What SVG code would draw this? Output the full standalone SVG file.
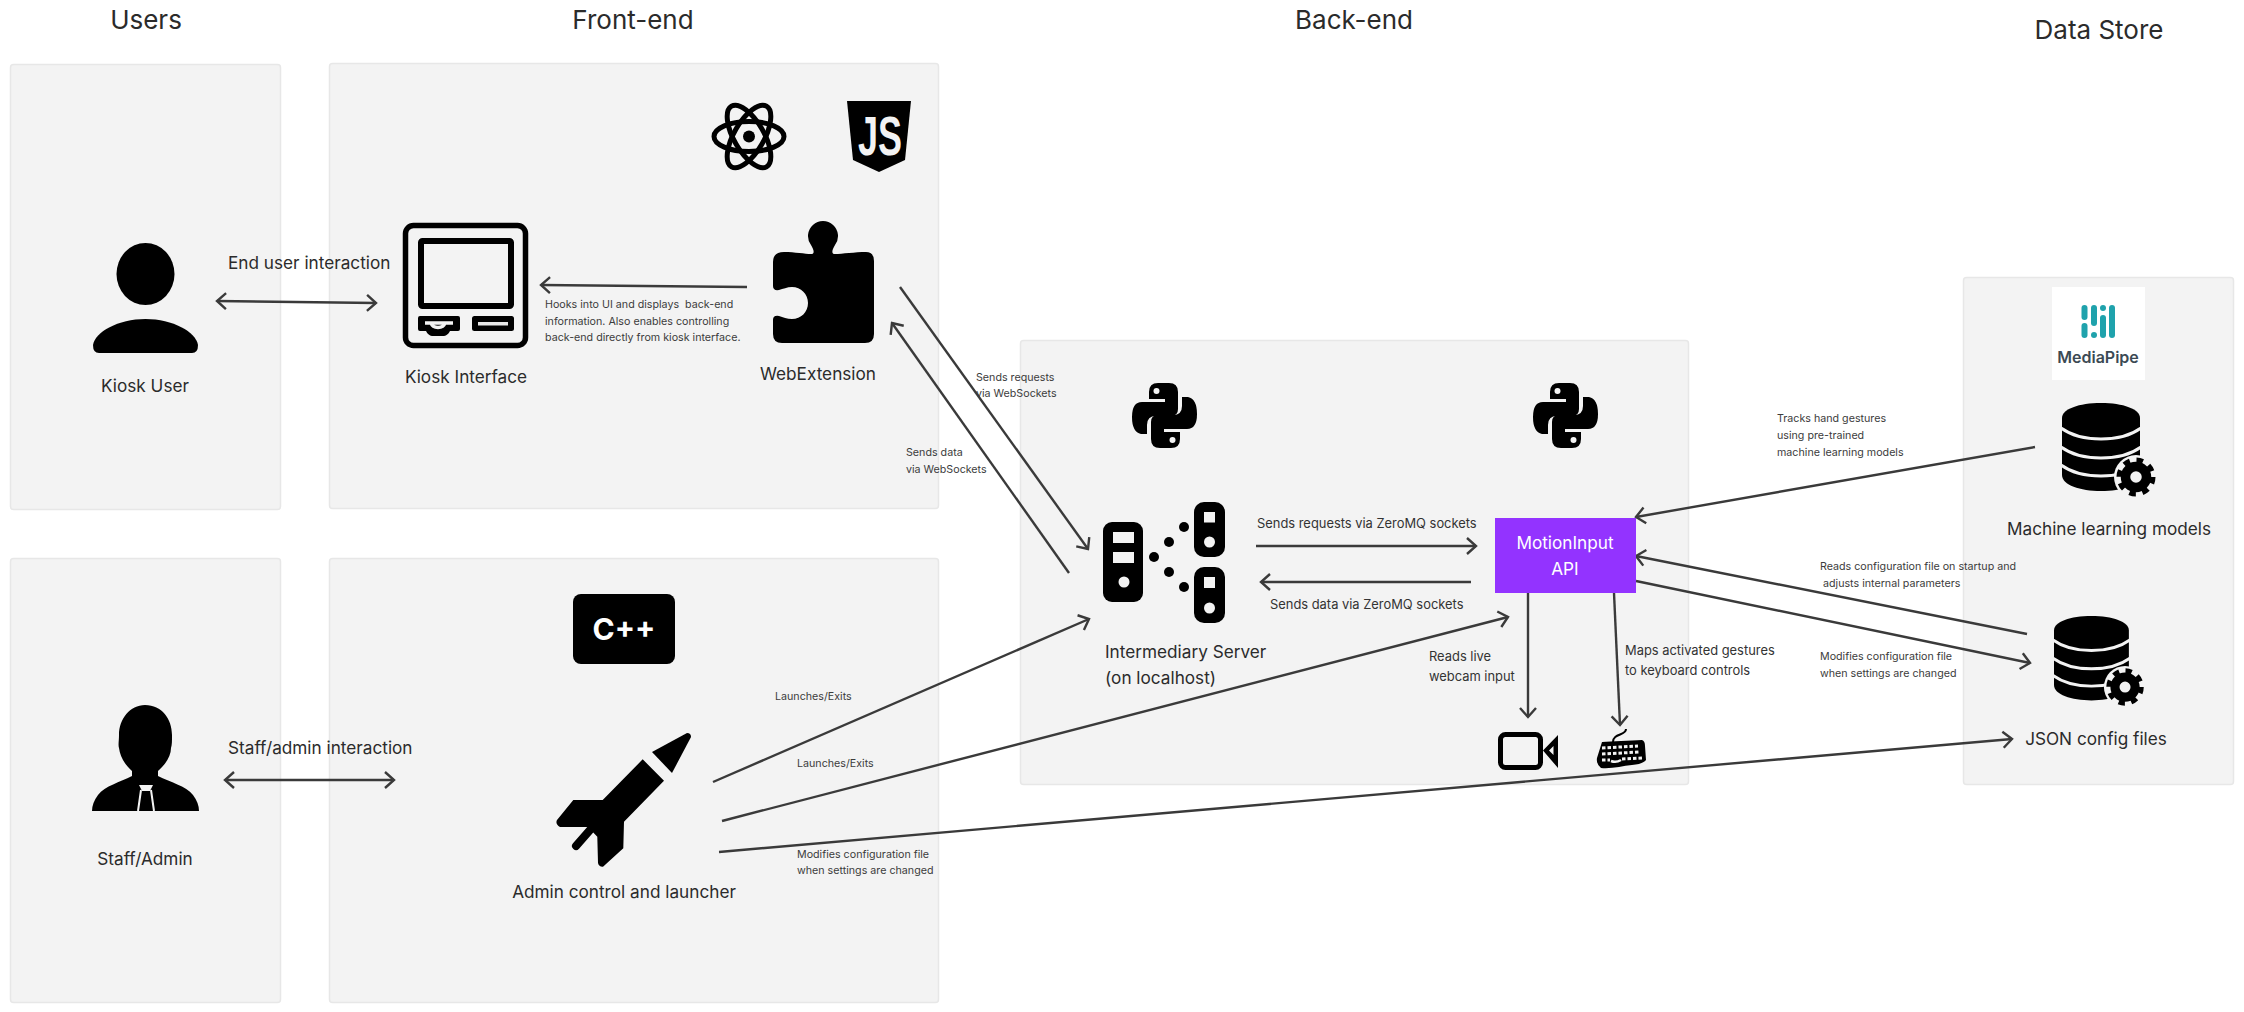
<svg xmlns="http://www.w3.org/2000/svg" width="2244" height="1012" viewBox="0 0 2244 1012">
<style>
text{font-family:Inter,"Noto Sans","Liberation Sans",sans-serif;fill:#2b2b2b;white-space:pre}
.title{font-size:26px;text-anchor:middle}
.lab{font-size:17.2px;text-anchor:middle}
.l{font-size:17.2px}
.mid{font-size:12.9px;fill:#333}
.sm{font-size:10.7px;fill:#3c3c3c}
.panel{fill:#f3f3f3;stroke:#e7e7e7;stroke-width:1.5}
.ic{fill:#000}
.cut{fill:none;stroke:#f3f3f3}
.c{fill:none;stroke:#3a3a3a;stroke-width:2.4}
.a{marker-end:url(#h)}
.b{marker-end:url(#h);marker-start:url(#h)}
</style>
<defs>
<marker id="h" viewBox="-12 -10 14 20" markerUnits="userSpaceOnUse" markerWidth="14" markerHeight="20" refX="0" refY="0" orient="auto-start-reverse">
<path d="M-9 -8L0 0L-9 8" fill="none" stroke="#3a3a3a" stroke-width="2.4"/>
</marker>
<g id="db">
<path class="ic" d="M0 15C0 6 17 0 39 0S78 6 78 15V72C78 82 60 88 39 88S0 82 0 72Z"/>
<path class="cut" stroke-width="3" d="M-1 25C10 33 25 36 39 36S68 33 79 25M-1 44C10 52 25 55 39 55S68 52 79 44M-1 62C10 70 25 73 39 73S68 70 79 62"/>
<circle cx="74" cy="74" r="22" fill="#f3f3f3"/>
<circle cx="74" cy="74" r="10.5" fill="none" stroke="#000" stroke-width="9.5"/>
<circle cx="74" cy="74" r="17" fill="none" stroke="#000" stroke-width="5" stroke-dasharray="6.6 6.75"/>
</g>
<g id="py">
<path id="snake" class="ic" d="M26 0H37Q46 0 46 9V26Q46 33 39 33H24Q15 33 15 42V51H9Q0 49 0 34Q0 19 10 19H33V16H17V9Q17 0 26 0Z"/>
<use href="#snake" transform="rotate(180 32.5 32.5)"/>
<circle cx="24.5" cy="8" r="3" fill="#f3f3f3"/>
<circle cx="40.5" cy="57" r="3" fill="#f3f3f3"/>
</g>
</defs>
<rect width="2244" height="1012" fill="#fff"/>

<g id="panels">
<rect class="panel" x="10.500" y="64.500" width="270" height="445" rx="3"/>
<rect class="panel" x="329.500" y="63.500" width="609" height="445" rx="3"/>
<rect class="panel" x="10.500" y="558.500" width="270" height="444" rx="3"/>
<rect class="panel" x="329.500" y="558.500" width="609" height="444" rx="3"/>
<rect class="panel" x="1020.500" y="340.500" width="668" height="444" rx="3"/>
<rect class="panel" x="1963.500" y="277.500" width="270" height="507" rx="3"/>
</g>

<g id="titles">
<text class="title" x="146" y="29">Users</text>
<text class="title" x="633" y="29">Front-end</text>
<text class="title" x="1354" y="29">Back-end</text>
<text class="title" x="2099" y="39">Data Store</text>
</g>

<g id="connectors">
<line class="c b" x1="217" y1="301" x2="376" y2="303"/>
<line class="c b" x1="225" y1="780" x2="394" y2="780"/>
<line class="c a" x1="747" y1="287" x2="541" y2="285"/>
<line class="c a" x1="900" y1="287" x2="1088" y2="549"/>
<line class="c a" x1="1069" y1="573" x2="892" y2="323"/>
<line class="c a" x1="713" y1="782" x2="1089" y2="619"/>
<line class="c a" x1="722" y1="821" x2="1508" y2="617"/>
<line class="c a" x1="719" y1="852" x2="2012" y2="739"/>
<line class="c a" x1="1256" y1="546" x2="1476" y2="546"/>
<line class="c a" x1="1471" y1="582" x2="1261" y2="582"/>
<line class="c a" x1="1528" y1="593" x2="1528" y2="717"/>
<line class="c a" x1="1614" y1="593" x2="1620" y2="725"/>
<line class="c a" x1="2035" y1="447" x2="1636" y2="517"/>
<line class="c a" x1="2027" y1="634" x2="1636" y2="556"/>
<line class="c a" x1="1636" y1="581" x2="2030" y2="663"/>
</g>

<g id="connector-labels">
<text class="l" x="228" y="269">End user interaction</text>
<text class="l" x="228" y="754">Staff/admin interaction</text>
<text class="sm" x="545" y="308">Hooks into UI and displays  back-end</text>
<text class="sm" x="545" y="325">information. Also enables controlling</text>
<text class="sm" x="545" y="341">back-end directly from kiosk interface.</text>
<text class="sm" x="976" y="381">Sends requests</text>
<text class="sm" x="976" y="397">via WebSockets</text>
<text class="sm" x="906" y="456">Sends data</text>
<text class="sm" x="906" y="473">via WebSockets</text>
<text class="sm" x="775" y="700">Launches/Exits</text>
<text class="sm" x="797" y="767">Launches/Exits</text>
<text class="sm" x="797" y="858">Modifies configuration file</text>
<text class="sm" x="797" y="874">when settings are changed</text>
<text class="mid" x="1257" y="528">Sends requests via ZeroMQ sockets</text>
<text class="mid" x="1270" y="609">Sends data via ZeroMQ sockets</text>
<text class="mid" x="1429" y="661">Reads live</text>
<text class="mid" x="1429" y="681">webcam input</text>
<text class="mid" x="1625" y="655">Maps activated gestures</text>
<text class="mid" x="1625" y="675">to keyboard controls</text>
<text class="sm" x="1777" y="422">Tracks hand gestures</text>
<text class="sm" x="1777" y="439">using pre-trained</text>
<text class="sm" x="1777" y="456">machine learning models</text>
<text class="sm" x="1820" y="570">Reads configuration file on startup and</text>
<text class="sm" x="1823" y="587">adjusts internal parameters</text>
<text class="sm" x="1820" y="660">Modifies configuration file</text>
<text class="sm" x="1820" y="677">when settings are changed</text>
</g>

<g id="kiosk-user">
<ellipse class="ic" cx="145.500" cy="274" rx="29" ry="31"/>
<path class="ic" d="M93 345C95 332 118 319 145.500 319S196 332 198 345Q198 353 192 353H99Q93 353 93 345Z"/>
<text class="lab" x="145" y="392">Kiosk User</text>
</g>

<g id="staff-admin">
<path class="ic" d="M145 705C162 705 172 719 172 735C172 741 172 745 171 748C171 756 166 764 158 771V776C170 782 186 786 193 795C197 800 199 806 199 811H92C92 806 94 800 98 795C105 786 120 782 132 776V771C124 764 120 756 119 748C118 745 119 741 119 735C119 719 130 705 145 705Z"/>
<path d="M139 785H153L150 791H142Z" fill="#f3f3f3"/>
<path d="M141 790L138 811M151 790L154 811" fill="none" stroke="#f3f3f3" stroke-width="2"/>
<text class="lab" x="145" y="865">Staff/Admin</text>
</g>

<g id="kiosk-interface">
<rect x="405.500" y="225.500" width="120" height="120" rx="8" fill="none" stroke="#000" stroke-width="5.500"/>
<rect x="421" y="241" width="90" height="65" rx="1.500" fill="none" stroke="#000" stroke-width="6"/>
<path class="ic" d="M420 316H458Q460 316 460 318V329Q460 331 458 331H450C447 337 443 336 438 336S429 337 426 331H420Q418 331 418 329V318Q418 316 420 316Z"/>
<path class="cut" stroke-width="3.500" d="M425 323H453L445 323C443 329 433 329 431 323"/>
<rect x="472" y="316" width="42" height="15" rx="2.500" class="ic"/>
<rect x="478" y="322" width="30" height="3.500" fill="#e6e6e6"/>
<text class="lab" x="466" y="383">Kiosk Interface</text>
</g>

<g id="webextension">
<path class="ic" d="M784 252C795 252 805 254 811 254C815 254 814 250 811 245A15 15 0 1 1 835 245C832 250 831 254 835 254C842 254 855 252 866 252Q874 252 874 261V334Q874 343 865 343H782Q773 343 773 334V320Q773 315 779 316C783 317 787 319 792 319C801 319 808 312 808 303S801 287 792 287C787 287 783 289 779 290Q773 291 773 286V262Q773 252 784 252Z"/>
<text class="lab" x="818" y="380">WebExtension</text>
</g>

<g id="react-logo" fill="none" stroke="#000" stroke-width="5">
<ellipse cx="749" cy="136.500" rx="35" ry="15"/>
<ellipse cx="749" cy="136.500" rx="35" ry="15" transform="rotate(60 749 136.500)"/>
<ellipse cx="749" cy="136.500" rx="35" ry="15" transform="rotate(120 749 136.500)"/>
<circle cx="749" cy="136.500" r="6" fill="#000" stroke="none"/>
</g>

<g id="js-logo">
<path class="ic" d="M847 101H911L905 160L879 172L853 160Z"/>
<text x="880" y="155" text-anchor="middle" textLength="44" lengthAdjust="spacingAndGlyphs" style="font-family:'Liberation Sans',sans-serif;font-size:55px;font-weight:700;fill:#f3f3f3">JS</text>
</g>

<g id="cpp-logo">
<rect class="ic" x="573" y="594" width="102" height="70" rx="8"/>
<text x="624" y="640" text-anchor="middle" style="font-size:30px;font-weight:700;fill:#fff">C++</text>
</g>

<g id="admin-launcher">
<path class="ic" d="M652 752L687 733Q691 733 691 737L672 773Z"/>
<path class="ic" d="M642.700 759.300L664 780.700L624 821.700L623.300 848.300L603 866.700Q599 867 598 863L597.300 836.700L588 827H560Q555 824 557 820L573.300 800H602.700Z"/>
<line x1="590" y1="830" x2="576" y2="846" stroke="#000" stroke-width="8" stroke-linecap="round"/>
<text class="lab" x="624" y="898">Admin control and launcher</text>
</g>

<g id="intermediary-server">
<rect class="ic" x="1103" y="522" width="40" height="80" rx="9"/>
<rect x="1113" y="532" width="21" height="11" fill="#f3f3f3"/>
<rect x="1113" y="552" width="21" height="11" fill="#f3f3f3"/>
<circle cx="1124" cy="582" r="5.500" fill="#f3f3f3"/>
<rect class="ic" x="1194" y="502" width="31" height="55" rx="10"/>
<rect x="1204" y="512" width="11" height="10.500" fill="#f3f3f3"/>
<circle cx="1209.500" cy="542" r="5.500" fill="#f3f3f3"/>
<rect class="ic" x="1194" y="567" width="31" height="56" rx="10"/>
<rect x="1204" y="577" width="11" height="11" fill="#f3f3f3"/>
<circle cx="1209.500" cy="608" r="5.500" fill="#f3f3f3"/>
<circle class="ic" cx="1154" cy="557" r="5"/>
<circle class="ic" cx="1169" cy="542" r="5"/>
<circle class="ic" cx="1184" cy="527" r="5"/>
<circle class="ic" cx="1169" cy="572" r="5"/>
<circle class="ic" cx="1184" cy="587" r="5"/>
<text class="l" x="1105" y="658">Intermediary Server</text>
<text class="l" x="1105" y="684">(on localhost)</text>
</g>

<g id="python-logo-1" transform="translate(1132 383)"><use href="#py"/></g>
<g id="python-logo-2" transform="translate(1533 383)"><use href="#py"/></g>

<g id="motioninput-api">
<rect x="1495" y="518" width="141" height="75" fill="#9333ff"/>
<text class="lab" x="1565" y="549" style="fill:#fff">MotionInput</text>
<text class="lab" x="1565" y="575" style="fill:#fff">API</text>
</g>

<g id="webcam">
<rect x="1500.500" y="734.500" width="40" height="33" rx="5" fill="none" stroke="#000" stroke-width="5"/>
<path class="ic" fill-rule="evenodd" d="M1543 750.500L1558 735V768ZM1549 750.500L1553.500 755V746Z"/>
</g>

<g id="keyboard">
<path d="M1626 729C1626 736 1613 733 1613 742" fill="none" stroke="#000" stroke-width="2"/>
<path class="ic" d="M1602 742C1612 741 1630 741 1642 740Q1645 741 1645 746L1646 760Q1643 764 1632 765C1622 766 1612 769 1601 768Q1596 764 1597 758Z"/>
<path fill="none" stroke="#f3f3f3" stroke-width="3" stroke-dasharray="3.500 2" d="M1602 748L1638 746M1602 754L1640 752M1602 760L1610 760M1622 759L1642 758"/>
<path d="M1611 761Q1616 763 1621 760" fill="none" stroke="#f3f3f3" stroke-width="2.500"/>
</g>

<g id="mediapipe-logo">
<rect x="2052" y="287" width="93" height="93" fill="#fff"/>
<g fill="#1fa2ac">
<rect x="2081.500" y="305" width="6" height="15" rx="3"/>
<rect x="2081.500" y="323" width="6" height="15" rx="3"/>
<rect x="2091" y="305" width="6" height="21" rx="3"/>
<circle cx="2094" cy="335" r="3"/>
<circle cx="2103" cy="308" r="3"/>
<rect x="2100" y="315" width="6" height="23" rx="3"/>
<rect x="2109" y="305" width="6" height="33" rx="3"/>
</g>
<text x="2098" y="363" text-anchor="middle" style="font-size:16px;font-weight:600;fill:#3c4a54">MediaPipe</text>
</g>

<g id="ml-models">
<use href="#db" transform="translate(2062 403)"/>
<text class="lab" x="2109" y="535">Machine learning models</text>
</g>

<g id="json-config">
<use href="#db" transform="translate(2054 616) scale(.96)"/>
<text class="lab" x="2096" y="745">JSON config files</text>
</g>
</svg>
